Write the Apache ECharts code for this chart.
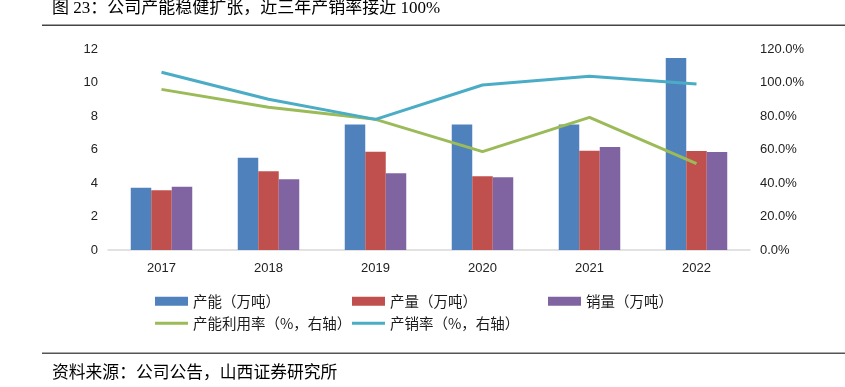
<!DOCTYPE html>
<html>
<head>
<meta charset="utf-8">
<script src="https://cdn.jsdelivr.net/npm/echarts@6/dist/echarts.min.js"></script>
<style>
html,body{margin:0;padding:0;background:#fff;}
#c{width:845px;height:387px;}
</style>
</head>
<body>
<div id="c"></div>
<script>
// Data
const years = ['2017', '2018', '2019', '2020', '2021', '2022'];
const capacity = [3.72, 5.51, 7.5, 7.5, 7.5, 11.46];      // 产能（万吨）
const output = [3.57, 4.70, 5.87, 4.40, 5.93, 5.91];       // 产量（万吨）
const sales = [3.78, 4.22, 4.58, 4.34, 6.15, 5.85];        // 销量（万吨）
const utilRate = [0.959, 0.852, 0.78, 0.587, 0.792, 0.515]; // 产能利用率
const salesRate = [1.061, 0.90, 0.78, 0.985, 1.037, 0.991]; // 产销率
const seriesNames = ['产能（万吨）', '产量（万吨）', '销量（万吨）', '产能利用率（%，右轴）', '产销率（%，右轴）'];
const colors = ['#4F81BD', '#C0504D', '#8064A2', '#9BBB59', '#4BACC6'];
const titleText = '图 23：公司产能稳健扩张，近三年产销率接近 100%';
const sourceText = '资料来源：公司公告，山西证券研究所';

const cjk = "'Noto Sans CJK SC', 'Liberation Sans', sans-serif";
const chart = echarts.init(document.getElementById('c'), null, {renderer: 'canvas'});

function legendItem(i, left, top, isLine) {
  return {
    data: [seriesNames[i]],
    left: left, top: top,
    padding: 0,
    icon: 'rect',
    itemWidth: 33,
    itemHeight: isLine ? 3 : 9,
    selectedMode: false,
    textStyle: {fontFamily: cjk, fontSize: 14.5, color: '#1a1a1a'}
  };
}

const option = {
  animation: false,
  color: colors,
  grid: {left: 108, right: 95, top: 49, bottom: 137},
  legend: [
    legendItem(0, 155, 294, false),
    legendItem(1, 352, 294, false),
    legendItem(2, 548, 294, false),
    legendItem(3, 155, 316, true),
    legendItem(4, 352, 316, true)
  ],
  xAxis: {
    type: 'category',
    data: years,
    axisLine: {lineStyle: {color: '#D9D9D9', width: 1.5}},
    axisTick: {show: false},
    axisLabel: {color: '#222', fontSize: 13, fontFamily: "'Liberation Sans', sans-serif", margin: 12}
  },
  yAxis: [
    {
      type: 'value', min: 0, max: 12, interval: 2,
      splitLine: {show: false},
      axisLine: {show: false}, axisTick: {show: false},
      axisLabel: {color: '#222', fontSize: 13, fontFamily: "'Liberation Sans', sans-serif", margin: 10}
    },
    {
      type: 'value', min: 0, max: 1.2, interval: 0.2,
      splitLine: {show: false},
      axisLine: {show: false}, axisTick: {show: false},
      axisLabel: {
        color: '#222', fontSize: 13, fontFamily: "'Liberation Sans', sans-serif", margin: 10,
        formatter: v => (v * 100).toFixed(1) + '%'
      }
    }
  ],
  series: [
    {name: seriesNames[0], type: 'bar', data: capacity, barWidth: 20.5, barGap: '0%'},
    {name: seriesNames[1], type: 'bar', data: output, barWidth: 20.5, barGap: '0%'},
    {name: seriesNames[2], type: 'bar', data: sales, barWidth: 20.5, barGap: '0%'},
    {name: seriesNames[3], type: 'line', yAxisIndex: 1, data: utilRate, showSymbol: false, symbol: 'none', lineStyle: {width: 3}},
    {name: seriesNames[4], type: 'line', yAxisIndex: 1, data: salesRate, showSymbol: false, symbol: 'none', lineStyle: {width: 3}}
  ],
  graphic: [
    {type: 'text', left: 52, top: 0, style: {text: titleText, font: "17px 'Liberation Serif', 'Noto Sans CJK SC', serif", fill: '#000'}},
    {type: 'rect', shape: {x: 42, y: 24.5, width: 803, height: 1.4}, style: {fill: '#444'}},
    {type: 'rect', shape: {x: 42, y: 352.5, width: 803, height: 1.4}, style: {fill: '#555'}},
    {type: 'text', left: 52, top: 363, style: {text: sourceText, font: "16.8px 'Noto Sans CJK SC', sans-serif", fill: '#000'}}
  ]
};
chart.setOption(option);
</script>
</body>
</html>
